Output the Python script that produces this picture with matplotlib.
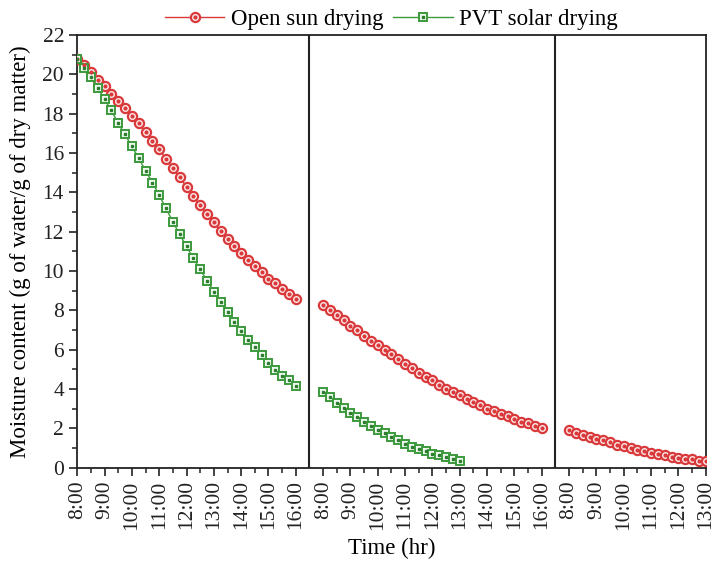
import numpy as np
import matplotlib.pyplot as plt
from matplotlib.ticker import MultipleLocator
from matplotlib.legend_handler import HandlerTuple

plt.rcParams['font.family'] = ['Liberation Serif', 'DejaVu Serif']

# moisture content readings every 15 min (g water / g dry matter)
open_day1 = [20.8, 20.48, 20.1, 19.7, 19.4, 19.0, 18.66, 18.3, 17.9, 17.5, 17.07,
             16.63, 16.2, 15.7, 15.24, 14.77, 14.26, 13.82, 13.35, 12.9, 12.47,
             12.03, 11.62, 11.25, 10.9, 10.57, 10.26, 9.96, 9.62, 9.38, 9.11,
             8.84, 8.6]
pvt_day1 = [20.8, 20.3, 19.85, 19.32, 18.73, 18.16, 17.5, 16.94, 16.33, 15.74,
            15.1, 14.5, 13.86, 13.18, 12.5, 11.87, 11.25, 10.65, 10.08, 9.52,
            8.96, 8.43, 7.91, 7.42, 6.95, 6.5, 6.13, 5.73, 5.32, 4.98, 4.67,
            4.44, 4.17]
open_day2 = [8.28, 8.03, 7.76, 7.49, 7.22, 6.98, 6.71, 6.47, 6.23, 6.0, 5.76,
             5.52, 5.28, 5.08, 4.84, 4.64, 4.44, 4.23, 4.03, 3.86, 3.69, 3.52,
             3.35, 3.18, 3.01, 2.88, 2.74, 2.61, 2.47, 2.34, 2.27, 2.13, 2.0]
pvt_day2 = [3.83, 3.59, 3.32, 3.05, 2.81, 2.58, 2.34, 2.13, 1.93, 1.76, 1.59,
            1.42, 1.22, 1.08, 0.98, 0.84, 0.71, 0.64, 0.54, 0.44, 0.37]
open_day3 = [1.93, 1.76, 1.66, 1.59, 1.49, 1.39, 1.29, 1.18, 1.12, 1.02, 0.91,
             0.85, 0.78, 0.71, 0.64, 0.57, 0.51, 0.47, 0.44, 0.37, 0.34]

hour_labels = ['8:00', '9:00', '10:00', '11:00', '12:00', '13:00', '14:00', '15:00', '16:00']
day_hours = [8, 8, 5]          # hours shown on each day's axis (after 8:00)
day_start = [0, 9, 18]         # where each day begins on the shared axis

red = '#d9393b'
green = '#3c9a3c'


def xs(day, n):
    return day_start[day] + np.arange(n) * 0.25


fig, ax = plt.subplots(figsize=(7.15, 5.63), dpi=100)
fig.subplots_adjust(left=0.108, right=0.987, bottom=0.169, top=0.938)

open_kw = dict(color=red, lw=1.0, marker='o', ms=6.6, mfc='#fdeeee', mec=red, mew=1.6)
pvt_kw = dict(color=green, lw=1.0, marker='s', ms=5.6, mfc='#eef8ee', mec=green, mew=1.4)

handles = {}
for day, vals in enumerate([open_day1, open_day2, open_day3]):
    x = xs(day, len(vals))
    l1, = ax.plot(x, vals, zorder=3, **open_kw)
    l2, = ax.plot(x, vals, ls='none', marker='o', ms=2.0, color=red, zorder=4)
    handles['open'] = (l1, l2)
for day, vals in enumerate([pvt_day1, pvt_day2]):
    x = xs(day, len(vals))
    l1, = ax.plot(x, vals, zorder=3, **pvt_kw)
    l2, = ax.plot(x, vals, ls='none', marker='s', ms=1.7, color='#2e7d2e', zorder=4)
    handles['pvt'] = (l1, l2)

# day separators
for sep in [8.5, 17.5]:
    ax.axvline(sep, color='#222222', lw=1.5, zorder=2)

ticks, labels, minors = [], [], []
for d in range(3):
    for h in range(day_hours[d] + 1):
        ticks.append(day_start[d] + h)
        labels.append(hour_labels[h])
        if h < day_hours[d]:
            minors.append(day_start[d] + h + 0.5)
ax.set_xticks(ticks)
ax.set_xticklabels(labels, rotation=90)
ax.set_xticks(minors, minor=True)
ax.set_xlim(0, 23)

ax.set_ylim(0, 22)
ax.yaxis.set_major_locator(MultipleLocator(2))
ax.yaxis.set_minor_locator(MultipleLocator(1))

ax.tick_params(which='major', direction='out', length=6, width=1.2, labelsize=15.5,
               top=False, right=False, colors='#222222')
ax.tick_params(which='minor', direction='out', length=3.5, width=1.1, top=False, right=False,
               colors='#222222')
ax.tick_params(axis='x', which='both', pad=3)
for sp in ax.spines.values():
    sp.set_linewidth(1.3)
    sp.set_color('#222222')

ax.set_xlabel('Time (hr)', fontsize=16.5, labelpad=6)
ax.set_ylabel('Moisture content (g of water/g of dry matter)', fontsize=16.5, labelpad=8)

ax.legend([handles['open'], handles['pvt']], ['Open sun drying', 'PVT solar drying'],
          handler_map={tuple: HandlerTuple(ndivide=1)},
          loc='lower center', bbox_to_anchor=(0.5, 0.99), ncol=2, frameon=False,
          fontsize=16.5, handlelength=2.6, handletextpad=0.3, columnspacing=0.4,
          borderaxespad=0.0)

plt.savefig('out.png', dpi=100)
